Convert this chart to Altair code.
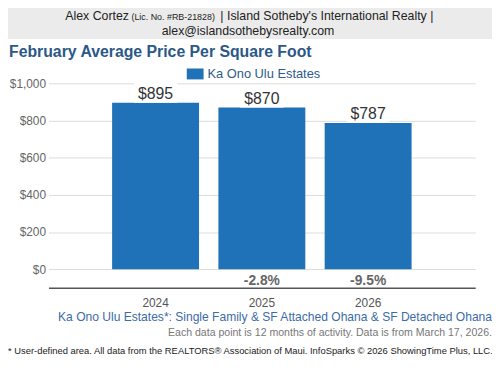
import altair as alt
import pandas as pd

years = ["2024", "2025", "2026"]
values = [895, 870, 787]
value_labels = ["$895", "$870", "$787"]
pct_labels = ["", "-2.8%", "-9.5%"]
series = ["Ka Ono Ulu Estates"] * 3
y_ticks = [0, 200, 400, 600, 800, 1000]

df = pd.DataFrame({"year": years, "value": values, "vlabel": value_labels,
                   "pct": pct_labels, "series": series})

FONT = "Liberation Sans"
W, H = 432, 207
one = alt.Data(values=[{}])

x = alt.X("year:N", title=None,
          scale=alt.Scale(paddingInner=0.185, paddingOuter=0.6),
          axis=alt.Axis(labelAngle=0, labelFontSize=12, labelColor="#555",
                        labelFont=FONT, labelPadding=10, ticks=False,
                        domainColor="#555", domainWidth=1.5, grid=False))
y = alt.Y("value:Q", title=None,
          scale=alt.Scale(domain=[-100, 1000], nice=False),
          axis=alt.Axis(values=y_ticks, format="$,.0f", labelFontSize=12,
                        labelColor="#666", labelFont=FONT, labelPadding=3,
                        ticks=False, domain=False, gridColor="#dcdcdc"))

base = alt.Chart(df)

band = alt.Chart(one).mark_rect(color="#ebebeb").encode(
    x=alt.value(-48), x2=alt.value(460), y=alt.value(-90), y2=alt.value(-45))

def txt(text, xv, yv, size, color, align="left", weight="normal"):
    return alt.Chart(one).mark_text(
        text=text, align=align, baseline="middle", fontSize=size, color=color,
        font=FONT, fontWeight=weight).encode(x=alt.value(xv), y=alt.value(yv))

header = [
    txt("Alex Cortez", 17, -68, 12.5, "#222"),
    txt("(Lic. No. #RB-21828)", 84, -67, 9, "#222"),
    txt("| Island Sotheby's International Realty |", 174, -68, 12.5, "#222"),
    txt("alex@islandsothebysrealty.com", 202, -53, 12.5, "#222", align="center"),
    txt("February Average Price Per Square Foot", -40, -32, 16, "#2b5888", weight="bold"),
]

bars = base.mark_bar(size=88).encode(
    x=x, y=y,
    color=alt.Color("series:N", scale=alt.Scale(range=["#1f72b8"]),
                    legend=alt.Legend(orient="none", legendX=140, legendY=-18,
                                      title=None,
                                      symbolType="M-1,-0.65H1V0.65H-1Z",
                                      symbolSize=289, symbolStrokeWidth=0,
                                      labelFontSize=13, labelColor="#2d5b8b",
                                      labelFont=FONT)))

box = base.transform_calculate(top="datum.value + 110").mark_bar(
    size=44, color="white").encode(x="year:N", y="value:Q", y2="top:Q")

vlab = base.mark_text(baseline="alphabetic", dy=-4, fontSize=16,
                      color="#333", font=FONT).encode(
    x="year:N", y="value:Q", text="vlabel:N")

plab = base.mark_text(baseline="middle", fontSize=14, fontWeight="bold",
                      color="#666", font=FONT).encode(
    x="year:N", y=alt.value(200), text="pct:N")

footer = [
    txt("Ka Ono Ulu Estates*: Single Family & SF Attached Ohana & SF Detached Ohana",
        449, 237, 12.2, "#3c6ca8", align="right"),
    txt("Each data point is 12 months of activity. Data is from March 17, 2026.",
        449, 253, 10.7, "#777", align="right"),
    txt("* User-defined area. All data from the REALTORS® Association of Maui. InfoSparks © 2026 ShowingTime Plus, LLC.",
        -41, 271, 9.5, "#222"),
]

chart = alt.layer(band, *header, bars, box, vlab, plab, *footer).properties(
    width=W, height=H,
    autosize=alt.AutoSizeParams(type="none"),
    padding={"left": 41, "top": 74, "right": 17, "bottom": 84},
).configure_view(stroke=None)

chart.save("out.html", embed_options={"renderer": "svg", "actions": False})
